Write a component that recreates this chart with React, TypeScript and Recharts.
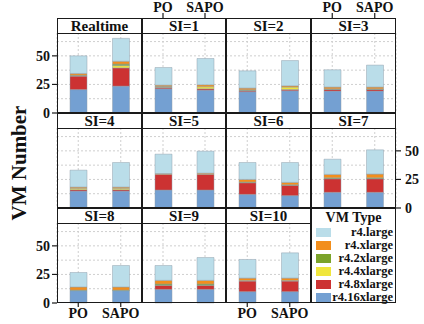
import React from "react";
import { BarChart, Bar, XAxis, YAxis, CartesianGrid } from "recharts";

const panels = ["Realtime", "SI=1", "SI=2", "SI=3", "SI=4", "SI=5", "SI=6", "SI=7", "SI=8", "SI=9", "SI=10"];
const categories = ["PO", "SAPO"];
// stacking order, bottom to top
const vmTypes = ["r4.16xlarge", "r4.8xlarge", "r4.4xlarge", "r4.2xlarge", "r4.xlarge", "r4.large"];
const legendOrder = ["r4.large", "r4.xlarge", "r4.2xlarge", "r4.4xlarge", "r4.8xlarge", "r4.16xlarge"];
const yTicks = [0, 25, 50];
const gridValues = [12.5, 25, 37.5, 50, 62.5];

// values per panel: [PO, SAPO]
const r4_16xlarge = [[20.5, 23.5], [21.2, 20], [18.6, 19.5], [19.2, 19.2], [14.8, 14.8], [15.7, 15.7], [11.9, 10.8], [13.7, 13.7], [10.8, 10.8], [11.9, 11.9], [9.9, 9.9]];
const r4_8xlarge = [[11.8, 16], [1.2, 1.2], [0.9, 1.1], [1.4, 1.4], [1.2, 1.2], [13.7, 13.7], [10.2, 9], [11.9, 11.9], [0, 0], [3.5, 3.5], [9.3, 9.3]];
const r4_4xlarge = [[0.3, 2], [0.3, 1.8], [0.3, 2.1], [0, 0], [1.2, 1.2], [0, 0], [0, 0], [0, 0], [0, 0], [0, 0], [0.5, 0.5]];
const r4_2xlarge = [[0.5, 1.3], [0.5, 0], [0.5, 0], [0.5, 0.5], [0, 0], [0, 0], [0.6, 0.5], [0.8, 0.8], [0.5, 0.5], [1.2, 1.2], [0, 0]];
const r4_xlarge = [[1.5, 2.5], [1.2, 1.7], [1.5, 1.1], [1.6, 1.6], [1.1, 1.1], [0.8, 1.1], [2.3, 2.1], [3, 3.3], [2.7, 2.7], [3.2, 3.2], [2.1, 2.1]];
const r4_large = [[15.4, 20], [15.4, 23], [15.1, 22.1], [15.1, 19.2], [14.8, 21.5], [16.9, 19.2], [14.8, 17.4], [13.3, 21.2], [12.7, 18.8], [13, 20], [16.3, 22.1]];

const seriesValues: Record<string, number[][]> = {
  "r4.16xlarge": r4_16xlarge,
  "r4.8xlarge": r4_8xlarge,
  "r4.4xlarge": r4_4xlarge,
  "r4.2xlarge": r4_2xlarge,
  "r4.xlarge": r4_xlarge,
  "r4.large": r4_large,
};

const colors: Record<string, string> = {
  "r4.large": "#BADDE9",
  "r4.xlarge": "#F28E1C",
  "r4.2xlarge": "#7BA32A",
  "r4.4xlarge": "#F0E63C",
  "r4.8xlarge": "#CC3232",
  "r4.16xlarge": "#74A0D2",
};

const keyOf = (t: string) => t.replace(/\./g, "_");

const colX = [57, 142, 226, 311, 396];
const rowY = [18, 113, 208];
const STRIP_H = 15;
const PH = 80;
const FONT = '"Liberation Serif", "Times New Roman", serif';
const BORDER = "1.5px solid #1a1a1a";

function buildData(i: number) {
  return categories.map((c, ci) => {
    const row: Record<string, any> = { cat: c };
    vmTypes.forEach((t) => {
      row[keyOf(t)] = seriesValues[t][i][ci];
    });
    return row;
  });
}

function Panel({ i }: { i: number }) {
  const row = Math.floor(i / 4);
  const col = i % 4;
  const px = colX[col];
  const pw = colX[col + 1] - colX[col];
  const stripTop = rowY[row];
  const plotTop = stripTop + STRIP_H;
  const yLeft = col === 0 && row !== 1;
  const yRight = col === 3 && row === 1;
  const xTop = row === 0 && (col === 1 || col === 3);
  const xBottom = row === 2 && (col === 0 || col === 2);
  const leftW = yLeft ? px : 0;
  const rightW = yRight ? 28 : 0;
  const topH = xTop ? plotTop : 0;
  const botH = xBottom ? 20 : 0;
  const w = pw + leftW + rightW;
  const h = PH + topH + botH;
  const data = buildData(i);
  const tickStyle = { fill: "#111", fontSize: 14, fontWeight: "bold", fontFamily: FONT };
  return (
    <>
      <div style={{ position: "absolute", left: px - leftW, top: plotTop - topH, width: w, height: h, zIndex: 1 }}>
        <BarChart width={w} height={h} data={data} margin={{ top: 0, right: 0, bottom: 0, left: 0 }} barSize={17}>
          <CartesianGrid stroke="#cfcfcf" strokeDasharray="2 2" horizontalValues={gridValues} />
          <XAxis
            dataKey="cat"
            orientation={xTop ? "top" : "bottom"}
            hide={!xTop && !xBottom}
            height={xTop ? topH : botH || 1}
            tickSize={xTop ? 20 : 4}
            tickMargin={1}
            axisLine={false}
            tickLine={{ stroke: "#1a1a1a", strokeWidth: 1.2 }}
            tick={tickStyle}
            interval={0}
          />
          <YAxis
            domain={[0, 70]}
            ticks={yTicks}
            hide={!yLeft && !yRight}
            orientation={yRight ? "right" : "left"}
            width={yLeft ? leftW : rightW || 1}
            tickSize={5}
            tickMargin={yRight ? 4 : 2}
            axisLine={false}
            tickLine={{ stroke: "#1a1a1a", strokeWidth: 1.2 }}
            tick={tickStyle}
            interval={0}
          />
          {vmTypes.map((t) => (
            <Bar
              key={t}
              dataKey={keyOf(t)}
              stackId="vm"
              fill={colors[t]}
              stroke="#8f9fab"
              strokeOpacity={0.6}
              strokeWidth={0.8}
              isAnimationActive={false}
            />
          ))}
        </BarChart>
      </div>
      <div
        style={{
          position: "absolute",
          left: px,
          top: stripTop,
          width: pw,
          height: STRIP_H + 1,
          border: BORDER,
          boxSizing: "border-box",
          background: "#fff",
          zIndex: 3,
          display: "flex",
          alignItems: "center",
          justifyContent: "center",
          fontSize: 15,
          fontWeight: "bold",
          lineHeight: 1,
          color: "#111",
        }}
      >
        {panels[i]}
      </div>
      <div
        style={{
          position: "absolute",
          left: px,
          top: plotTop,
          width: pw,
          height: PH,
          border: BORDER,
          boxSizing: "border-box",
          zIndex: 3,
          pointerEvents: "none",
        }}
      />
    </>
  );
}

function LegendBox() {
  const px = colX[3];
  const pw = colX[4] - colX[3];
  return (
    <div
      style={{
        position: "absolute",
        left: px,
        top: rowY[2],
        width: pw,
        height: STRIP_H + PH,
        border: BORDER,
        boxSizing: "border-box",
        zIndex: 3,
        background: "#fff",
        color: "#111",
        fontWeight: "bold",
      }}
    >
      <div style={{ textAlign: "center", fontSize: 14, lineHeight: "14px", marginTop: 2 }}>VM Type</div>
      <div style={{ position: "absolute", top: 17, left: 0, right: 0 }}>
        {legendOrder.map((t) => (
          <div key={t} style={{ display: "flex", alignItems: "center", height: 13, position: "relative" }}>
            <div style={{ position: "absolute", left: 4, width: 15, height: 9, background: colors[t], top: 2 }} />
            <div style={{ position: "absolute", right: 2, fontSize: 12.5, lineHeight: "13px", top: 0 }}>{t}</div>
          </div>
        ))}
      </div>
    </div>
  );
}

export default function App() {
  return (
    <div
      style={{
        position: "absolute",
        left: 0,
        top: 0,
        width: 424,
        height: 324,
        background: "#fff",
        fontFamily: FONT,
        overflow: "hidden",
      }}
    >
      <style>{".recharts-surface{overflow:visible}.recharts-wrapper{overflow:visible}"}</style>
      <div
        style={{
          position: "absolute",
          left: 19 - 100,
          top: 163 - 13,
          width: 200,
          height: 26,
          lineHeight: "26px",
          textAlign: "center",
          fontSize: 21,
          fontWeight: "bold",
          color: "#111",
          transform: "rotate(-90deg)",
        }}
      >
        VM Number
      </div>
      {panels.map((_, i) => (
        <Panel key={i} i={i} />
      ))}
      <LegendBox />
    </div>
  );
}
